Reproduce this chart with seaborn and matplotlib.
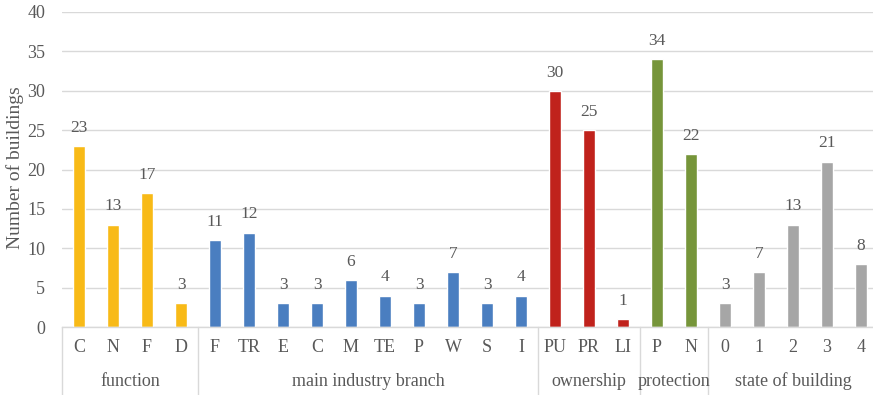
import matplotlib
matplotlib.use("Agg")
import matplotlib.pyplot as plt
import matplotlib.transforms as mtransforms
import seaborn as sns
import pandas as pd

# Building counts grouped by attribute
groups = ["function", "main industry branch", "ownership", "protection", "state of building"]
function_labels = ["C", "N", "F", "D"]
function_counts = [23, 13, 17, 3]
industry_labels = ["F", "TR", "E", "C", "M", "TE", "P", "W", "S", "I"]
industry_counts = [11, 12, 3, 3, 6, 4, 3, 7, 3, 4]
ownership_labels = ["PU", "PR", "LI"]
ownership_counts = [30, 25, 1]
protection_labels = ["P", "N"]
protection_counts = [34, 22]
state_labels = ["0", "1", "2", "3", "4"]
state_counts = [3, 7, 13, 21, 8]

group_colors = ["#F8BA17", "#4A7EC0", "#C0221C", "#76953A", "#A6A6A6"]

all_labels = [function_labels, industry_labels, ownership_labels, protection_labels, state_labels]
all_counts = [function_counts, industry_counts, ownership_counts, protection_counts, state_counts]

rows = []
for g, labs, cnts in zip(groups, all_labels, all_counts):
    for lab, c in zip(labs, cnts):
        rows.append({"key": f"{g}|{lab}", "label": lab, "group": g, "count": c})
df = pd.DataFrame(rows)

sns.set_theme(style="white")
plt.rcParams["font.family"] = ["Liberation Serif", "DejaVu Serif"]
text_color = "#595959"

fig = plt.figure(figsize=(8.73, 3.95), dpi=100)
W, H = 873, 395
ax_left, ax_bottom_px, ax_top_px = 62, 327, 12
ax = fig.add_axes([ax_left / W, 1 - ax_bottom_px / H, (W - ax_left) / W,
                   (ax_bottom_px - ax_top_px) / H])

sns.barplot(data=df, x="key", y="count", hue="group", order=list(df["key"]),
            hue_order=groups, palette=group_colors, dodge=False, width=0.34,
            saturation=1, legend=False, ax=ax)

slot_px = 34
ax.set_xlim(-0.5, -0.5 + (W - ax_left) / slot_px)
ax.set_ylim(0, 40)
ax.set_yticks(range(0, 41, 5))
ax.yaxis.grid(True, color="#D9D9D9", linewidth=1.0)
ax.set_axisbelow(True)
for s in ["top", "right", "left"]:
    ax.spines[s].set_visible(False)
ax.spines["bottom"].set_color("#D9D9D9")
ax.spines["bottom"].set_linewidth(1.0)
ax.tick_params(axis="y", length=0, pad=12, labelsize=13, labelcolor=text_color)
ax.tick_params(axis="x", length=0, pad=9, labelsize=13, labelcolor=text_color)
ax.set_xticks(range(len(df)))
ax.set_xticklabels(df["label"])
ax.set_xlabel("")
ax.set_ylabel("")
fig.text(15 / W, 1 - 168 / H, "Number of buildings", rotation=90, ha="center",
         va="center", fontsize=14, color=text_color)

# value labels above the bars
for i, c in enumerate(df["count"]):
    ax.text(i, c + 1.3, str(c), ha="center", va="bottom", fontsize=12.5, color=text_color)

# group separators and group names under the axis
trans = mtransforms.blended_transform_factory(ax.transData, fig.transFigure)
bounds = [0]
for cnts in all_counts:
    bounds.append(bounds[-1] + len(cnts))
y_top = 1 - ax_bottom_px / H
for b in bounds[:-1]:
    ax.plot([b - 0.5, b - 0.5], [y_top, 0], transform=trans, color="#D9D9D9",
            linewidth=1.0, clip_on=False)
for g, lo, hi in zip(groups, bounds[:-1], bounds[1:]):
    ax.text((lo + hi - 1) / 2, 1 - 381 / H, g, transform=trans, ha="center",
            va="center", fontsize=13, color=text_color)

fig.savefig("out.png", dpi=100)
